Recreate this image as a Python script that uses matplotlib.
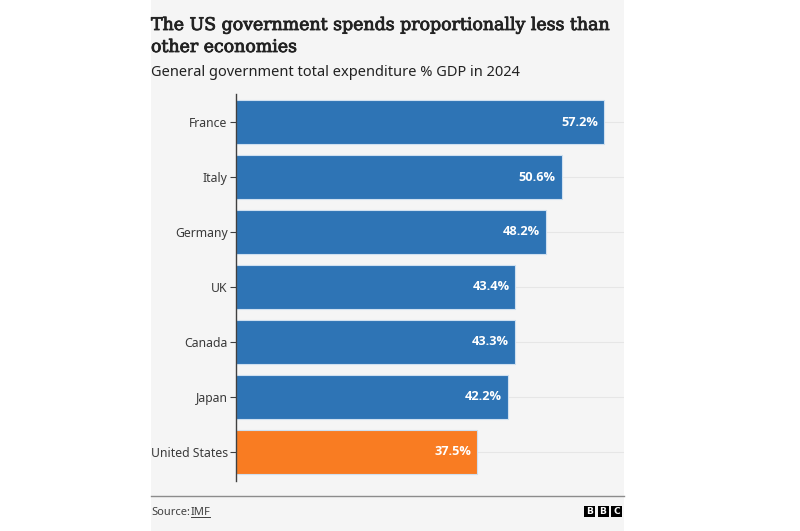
import matplotlib.pyplot as plt
import matplotlib.patheffects as pe
from matplotlib.patches import Rectangle

countries = ["France", "Italy", "Germany", "UK", "Canada", "Japan", "United States"]
spending = [57.2, 50.6, 48.2, 43.4, 43.3, 42.2, 37.5]
labels = ["57.2%", "50.6%", "48.2%", "43.4%", "43.3%", "42.2%", "37.5%"]

BLUE = "#2e74b5"
ORANGE = "#f97c22"
PANEL = "#f5f5f5"

fig = plt.figure(figsize=(8, 5.31), dpi=100)
W, H = 800, 531

# grey panel behind the whole chart
fig.patches.append(Rectangle((151 / W, 0), (624 - 151) / W, 1, transform=fig.transFigure,
                             facecolor=PANEL, edgecolor="none", zorder=-5))

ax = fig.add_axes([236 / W, 1 - 481 / H, (624 - 236) / W, (481 - 94) / H])
ax.set_facecolor("none")
ax.set_zorder(2)

colors = [ORANGE if c == "United States" else BLUE for c in countries]
y = list(range(len(countries)))
ax.barh(y, spending, height=0.8, color=colors, edgecolor="#cfe0f0", linewidth=0.8, zorder=2)
for yi in y:
    ax.axhline(yi, color="#e6e6e6", linewidth=0.8, zorder=1)

for yi, v, lab in zip(y, spending, labels):
    ax.text(v - 0.9, yi, lab, ha="right", va="center", color="white",
            fontsize=9.2, fontweight="bold", fontfamily="Open Sans", zorder=3)

ax.set_xlim(0, 60.3)
ax.set_ylim(6.53, -0.51)
ax.set_yticks(y)
ax.set_yticklabels(countries, fontsize=8.8, color="#3a3a3a", fontfamily="Noto Sans")
ax.tick_params(axis="y", length=4, width=0.8, color="#404040", pad=2)
ax.set_xticks([])
for s in ["top", "right", "bottom"]:
    ax.spines[s].set_visible(False)
ax.spines["left"].set_color("#404040")
ax.spines["left"].set_linewidth(1)

# title: regular serif thickened a little to mimic a medium weight
thick = [pe.withStroke(linewidth=0.6, foreground="#222222")]
fig.text(151 / W, 1 - 30 / H, "The US government spends proportionally less than",
         fontsize=12.5, fontfamily="DejaVu Serif", color="#222222", va="baseline",
         path_effects=thick)
fig.text(151 / W, 1 - 52 / H, "other economies",
         fontsize=12.5, fontfamily="DejaVu Serif", color="#222222", va="baseline",
         path_effects=thick)
fig.text(151 / W, 1 - 76 / H, "General government total expenditure % GDP in 2024",
         fontsize=10.5, fontfamily="Noto Sans", color="#222222", va="baseline")

# footer rule and source
fig.add_artist(plt.Line2D([151 / W, 624 / W], [1 - 496 / H, 1 - 496 / H],
                          transform=fig.transFigure, color="#8c8c8c", linewidth=1))
fig.text(151 / W, 1 - 515 / H, "Source:", fontsize=8, fontfamily="Noto Sans",
         color="#404040", va="baseline")
fig.text(191 / W, 1 - 515 / H, "IMF", fontsize=8, fontfamily="Noto Sans",
         color="#404040", va="baseline")
fig.add_artist(plt.Line2D([191 / W, 210 / W], [1 - 517 / H, 1 - 517 / H],
                          transform=fig.transFigure, color="#404040", linewidth=0.7))

# BBC blocks
for i, letter in enumerate("BBC"):
    x0 = 584 + i * 13.5
    fig.patches.append(Rectangle((x0 / W, 1 - 517 / H), 11 / W, 11 / H,
                                 transform=fig.transFigure, facecolor="black",
                                 edgecolor="none"))
    fig.text((x0 + 5.5) / W, 1 - 511.5 / H, letter, fontsize=6.5, fontweight="bold",
             color="white", ha="center", va="center", fontfamily="DejaVu Sans")

fig.savefig("out.png", dpi=100, facecolor="white")
